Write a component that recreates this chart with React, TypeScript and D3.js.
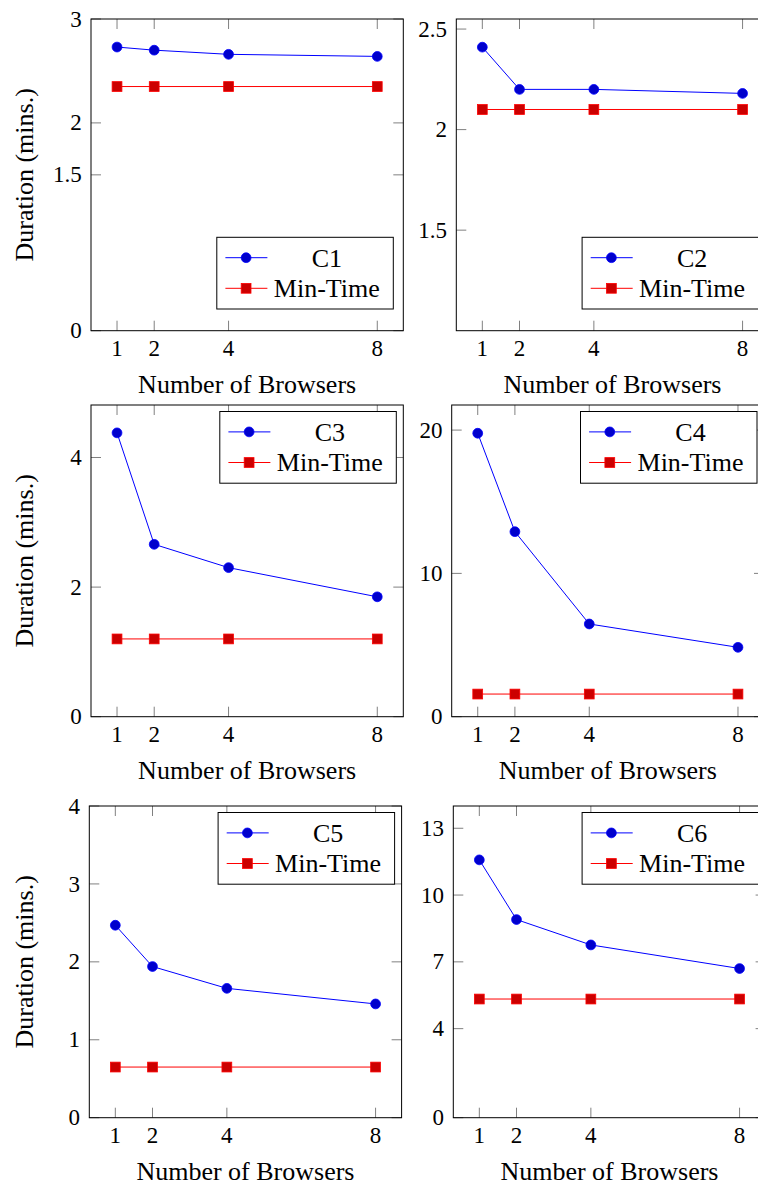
import React from "react";
import * as d3 from "d3";

const browsers = [1, 2, 4, 8];
const seriesNames = ["C1", "C2", "C3", "C4", "C5", "C6"];
const c1 = [2.73, 2.7, 2.66, 2.64];
const c2 = [2.41, 2.2, 2.2, 2.18];
const c3 = [4.38, 2.66, 2.3, 1.85];
const c4 = [19.78, 12.91, 6.47, 4.84];
const c5 = [2.47, 1.94, 1.66, 1.46];
const c6 = [11.58, 8.9, 7.76, 6.7];
const minTimeValues = [2.35, 2.1, 1.2, 1.58, 0.65, 5.33];
const yDomains: [number, number][] = [
  [0, 3],
  [1, 2.55],
  [0, 4.81],
  [0, 21.75],
  [0, 4],
  [0, 14],
];
const yTickValues = [
  [0, 1.5, 2, 3],
  [1.5, 2, 2.5],
  [0, 2, 4],
  [0, 10, 20],
  [0, 1, 2, 3, 4],
  [0, 4, 7, 10, 13],
];
const xTickValues = [1, 2, 4, 8];
const xLabel = "Number of Browsers";
const yLabel = "Duration (mins.)";
const minLabel = "Min-Time";

// layout (not data)
const panelOrigins = [
  [91, 19],
  [456.3, 19],
  [91, 405],
  [451.7, 405],
  [89.3, 806],
  [453.3, 806],
];
const legendPos = ["se", "se", "ne", "ne", "ne", "ne"];
const PW = 312.3;
const PH = 311.7;
const FONT = "Liberation Serif, DejaVu Serif, serif";
const BLUE = "#0000ff";
const BLUE_FILL = "#0000cc";
const RED = "#ff0000";
const RED_FILL = "#cc0000";

const allSeries = [c1, c2, c3, c4, c5, c6];

function Panel({ idx }: { idx: number }) {
  const [ox, oy] = panelOrigins[idx];
  const x = d3.scaleLinear().domain([0.3, 8.7]).range([0, PW]);
  const y = d3.scaleLinear().domain(yDomains[idx]).range([PH, 0]);
  const vals = allSeries[idx];
  const mt = minTimeValues[idx];
  const line = d3
    .line<[number, number]>()
    .x((d) => x(d[0]))
    .y((d) => y(d[1]));
  const mainPts: [number, number][] = browsers.map((b, i) => [b, vals[i]]);
  const minPts: [number, number][] = browsers.map((b) => [b, mt]);
  const tl = 10;
  const lw = 176.5;
  const lh = 71.7;
  const lx = PW - 7 - lw - (legendPos[idx] === "se" ? 3 : 0);
  const ly = legendPos[idx] === "se" ? PH - 21.7 - lh : 6.5;
  const sq = 9.8;
  const textStyle = { fontFamily: FONT };
  return (
    <g transform={`translate(${ox},${oy})`}>
      {xTickValues.map((t) => (
        <g key={"xt" + t}>
          <line x1={x(t)} x2={x(t)} y1={PH} y2={PH - tl} stroke="#808080" strokeWidth={1} />
          <line x1={x(t)} x2={x(t)} y1={0} y2={tl} stroke="#808080" strokeWidth={1} />
          <text x={x(t)} y={PH + 25.5} textAnchor="middle" style={textStyle} fontSize={23} fill="#000">
            {t}
          </text>
        </g>
      ))}
      {yTickValues[idx].map((t) => (
        <g key={"yt" + t}>
          <line x1={0} x2={tl} y1={y(t)} y2={y(t)} stroke="#808080" strokeWidth={1} />
          <line x1={PW} x2={PW - tl} y1={y(t)} y2={y(t)} stroke="#808080" strokeWidth={1} />
          <text x={-9.3} y={y(t)} dy="0.33em" textAnchor="end" style={textStyle} fontSize={23} fill="#000">
            {t}
          </text>
        </g>
      ))}
      <rect x={0} y={0} width={PW} height={PH} fill="none" stroke="#000" strokeWidth={1} />
      <path d={line(minPts) || ""} fill="none" stroke={RED} strokeWidth={1} />
      {minPts.map((p, i) => (
        <rect
          key={"m" + i}
          x={x(p[0]) - sq / 2}
          y={y(p[1]) - sq / 2}
          width={sq}
          height={sq}
          fill={RED_FILL}
          stroke={RED}
          strokeWidth={0.8}
        />
      ))}
      <path d={line(mainPts) || ""} fill="none" stroke={BLUE} strokeWidth={1} />
      {mainPts.map((p, i) => (
        <circle key={"c" + i} cx={x(p[0])} cy={y(p[1])} r={4.9} fill={BLUE_FILL} stroke={BLUE} strokeWidth={0.8} />
      ))}
      <text x={PW / 2} y={PH + 62.5} textAnchor="middle" style={textStyle} fontSize={26} fill="#000">
        {xLabel}
      </text>
      {idx % 2 === 0 && (
        <text
          transform={`translate(${33 - ox},${PH / 2}) rotate(-90)`}
          textAnchor="middle"
          style={textStyle}
          fontSize={26}
          fill="#000"
        >
          {yLabel}
        </text>
      )}
      <g transform={`translate(${lx},${ly})`}>
        <rect x={0} y={0} width={lw} height={lh} fill="#fff" stroke="#000" strokeWidth={1} />
        <line x1={8.6} x2={50.6} y1={20.4} y2={20.4} stroke={BLUE} strokeWidth={1} />
        <circle cx={29.3} cy={20.4} r={4.9} fill={BLUE_FILL} stroke={BLUE} strokeWidth={0.8} />
        <text x={110} y={20.4} dy="0.34em" textAnchor="middle" style={textStyle} fontSize={26} fill="#000">
          {seriesNames[idx]}
        </text>
        <line x1={8.6} x2={50.6} y1={51} y2={51} stroke={RED} strokeWidth={1} />
        <rect x={29.3 - sq / 2} y={51 - sq / 2} width={sq} height={sq} fill={RED_FILL} stroke={RED} strokeWidth={0.8} />
        <text x={110} y={51} dy="0.34em" textAnchor="middle" style={textStyle} fontSize={26} fill="#000">
          {minLabel}
        </text>
      </g>
    </g>
  );
}

export default function App() {
  return (
    <svg width={758} height={1187} style={{ position: "absolute", left: 0, top: 0, background: "#fff" }}>
      <rect x={0} y={0} width={758} height={1187} fill="#fff" />
      {seriesNames.map((_, i) => (
        <Panel key={i} idx={i} />
      ))}
    </svg>
  );
}
